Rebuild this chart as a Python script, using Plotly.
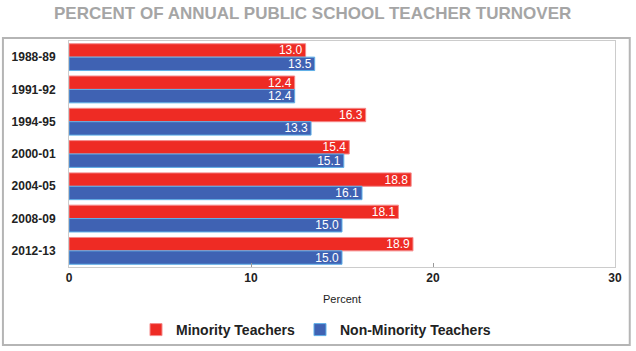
import plotly.graph_objects as go

years = ["1988-89", "1991-92", "1994-95", "2000-01", "2004-05", "2008-09", "2012-13"]
minority = [13.0, 12.4, 16.3, 15.4, 18.8, 18.1, 18.9]
non_minority = [13.5, 12.4, 13.3, 15.1, 16.1, 15.0, 15.0]

fig = go.Figure()
fig.add_trace(go.Bar(
    y=years, x=minority, orientation="h", name="Minority Teachers",
    marker=dict(color="#ee2b24", line=dict(color="#f58a8a", width=1)),
    texttemplate="%{x:.1f}", textposition="inside", insidetextanchor="end",
    textangle=0, textfont=dict(color="white", size=12, family="Arial"),
    constraintext="none",
))
fig.add_trace(go.Bar(
    y=years, x=non_minority, orientation="h", name="Non-Minority Teachers",
    marker=dict(color="#3f62b3", line=dict(color="#5fb0e8", width=1)),
    texttemplate="%{x:.1f}", textposition="inside", insidetextanchor="end",
    textangle=0, textfont=dict(color="white", size=12, family="Arial"),
    constraintext="none",
))

fig.update_layout(
    width=636, height=351,
    margin=dict(l=69, r=21, t=41, b=84, autoexpand=False),
    paper_bgcolor="white", plot_bgcolor="white",
    barmode="group", bargap=0.17, bargroupgap=0,
    font=dict(family="Arial", color="#222"),
    showlegend=True,
    legend=dict(orientation="h", x=(316 - 69) / 546, xanchor="center",
                y=-(330 - 267) / 226, yanchor="middle",
                bgcolor="rgba(0,0,0,0)",
                font=dict(size=14, family="Arial", color="#222", weight="bold"),
                itemwidth=30, traceorder="normal"),
    uniformtext=dict(minsize=12, mode="show"),
)
fig.update_xaxes(
    range=[0, 30], tickvals=[0, 10, 20, 30], showgrid=False,
    ticks="inside", ticklen=4, tickcolor="#999",
    tickfont=dict(size=12, family="Arial", color="#222", weight="bold"),
    title=dict(text="Percent", font=dict(size=11, color="#222"), standoff=10),
    showline=True, linecolor="#ccc", mirror=True, zeroline=False,
)
fig.update_yaxes(
    type="category", autorange="reversed", showgrid=False, ticks="",
    tickfont=dict(size=12, family="Arial", color="#222", weight="bold"),
    showline=True, linecolor="#ccc", mirror=True, ticklabelstandoff=10,
)
fig.add_shape(type="rect", xref="paper", yref="paper",
              x0=-0.121, x1=1.027, y0=-0.345, y1=1.013,
              line=dict(color="#b5b5b5", width=2), layer="below")
fig.add_annotation(text="<b>PERCENT OF ANNUAL PUBLIC SCHOOL TEACHER TURNOVER</b>",
                   xref="paper", yref="paper", x=(312 - 69) / 546, y=1 + (41 - 13) / 226,
                   xanchor="center", yanchor="middle", showarrow=False,
                   font=dict(size=17, family="Arial", color="#a5a5a5"))

fig.write_html("out.html")
